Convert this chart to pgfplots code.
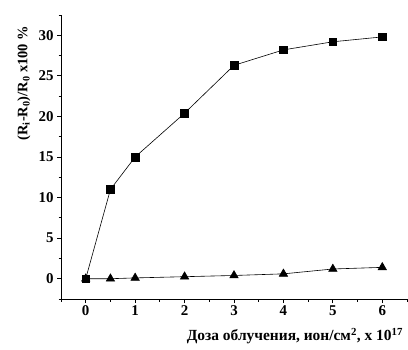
\documentclass[border=0pt]{standalone}
\usepackage{fontspec}
\setmainfont{Liberation Serif}
\usepackage{pgfplots}
\pgfplotsset{compat=1.18}
\begin{document}
\begin{tikzpicture}
\begin{axis}[
  scale only axis,
  width=346bp, height=284bp,
  xmin=-0.5, xmax=6.5, ymin=-2.5, ymax=32.5,
  axis x line=bottom, axis y line=left,
  axis line style={-, line width=0.8pt},
  xtick={0,1,2,3,4,5,6}, ytick={0,5,10,15,20,25,30},
  minor xtick={-0.5,0.5,1.5,2.5,3.5,4.5,5.5,6.5},
  minor ytick={-2.5,2.5,7.5,12.5,17.5,22.5,27.5,32.5},
  tick align=outside,
  major tick length=4bp, minor tick length=2.5bp,
  tick style={black, line width=0.8pt},
  /pgf/number format/assume math mode=true,
  tick label style={font=\fontsize{15}{17}\selectfont\bfseries},
  xticklabel style={yshift=1bp},
  xlabel={Доза облучения, ион/см\textsuperscript{2}, x 10\textsuperscript{17}},
  ylabel={(R\textsubscript{i}-R\textsubscript{0})/R\textsubscript{0}  x100 \%},
  xlabel style={font=\fontsize{15.5}{17}\selectfont\bfseries, at={(axis description cs:0.676,0)}, anchor=center, yshift=-37bp},
  ylabel style={font=\fontsize{14.5}{17}\selectfont\bfseries, at={(axis description cs:-0.107,0.76)}, anchor=center},
  clip=false,
]
\addplot[black, line width=0.6pt, mark=square*, mark size=3.8bp, mark options={solid}]
  coordinates {(0,0) (0.5,11) (1,15) (2,20.4) (3,26.3) (4,28.2) (5,29.2) (6,29.8)};
\addplot[black, line width=0.6pt, mark=triangle*, mark size=4.8bp, mark options={solid}]
  coordinates {(0,0) (0.5,0) (1,0.1) (2,0.25) (3,0.4) (4,0.6) (5,1.2) (6,1.4)};
\coordinate (sw) at (rel axis cs:0,0);
\coordinate (ne) at (rel axis cs:1,1);
\end{axis}
\pgfresetboundingbox
\path[use as bounding box] ([xshift=-61bp,yshift=-50bp]sw) rectangle ([xshift=1bp,yshift=15bp]ne);
\end{tikzpicture}
\end{document}
